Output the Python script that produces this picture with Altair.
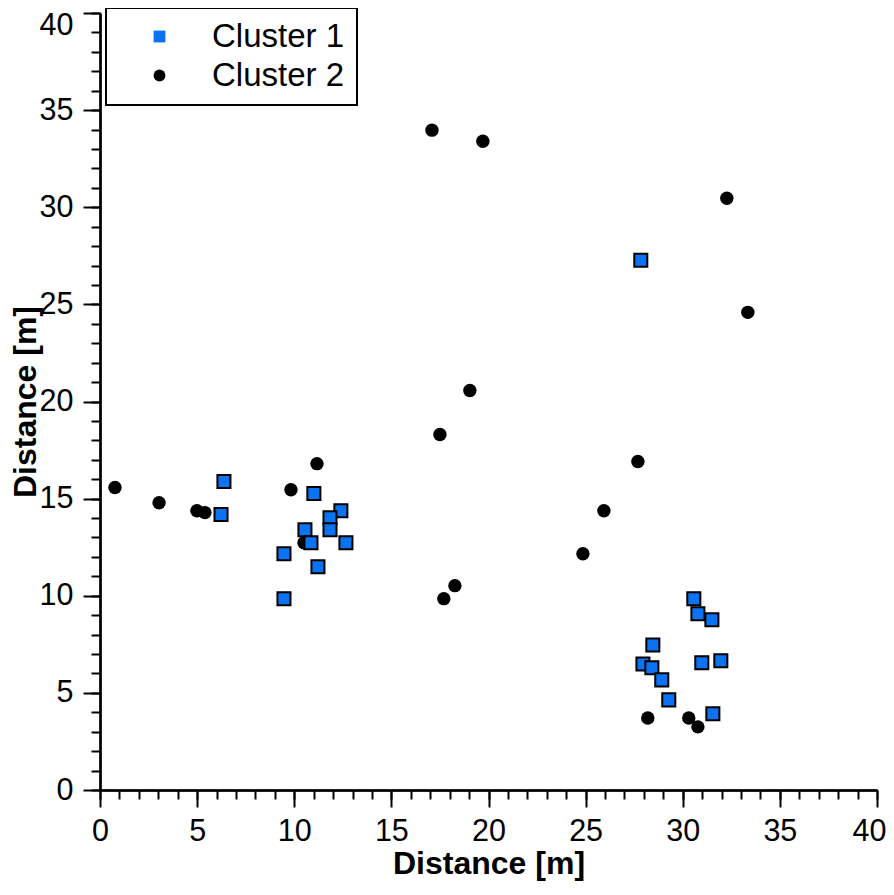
import altair as alt
import pandas as pd

c1_x = [27.84, 6.38, 6.23, 11.01, 12.40, 11.84, 11.84, 10.55, 10.86, 12.66, 9.47, 11.22, 9.47,
        30.57, 30.78, 31.50, 28.46, 27.95, 28.41, 28.92, 29.28, 30.98, 31.96, 31.55]
c1_y = [27.27, 15.88, 14.18, 15.26, 14.38, 14.02, 13.40, 13.40, 12.73, 12.73, 12.16, 11.49, 9.85,
        9.85, 9.07, 8.76, 7.47, 6.49, 6.29, 5.67, 4.64, 6.55, 6.65, 3.92]

c2_x = [0.77, 3.04, 4.99, 5.40, 9.83, 11.17, 10.50, 17.09, 19.71, 17.50, 19.04, 18.27, 17.70,
        24.86, 25.94, 27.69, 32.27, 33.35, 28.20, 30.31, 30.78]
c2_y = [15.57, 14.79, 14.38, 14.28, 15.46, 16.80, 12.73, 33.97, 33.40, 18.30, 20.57, 10.52, 9.85,
        12.16, 14.38, 16.91, 30.46, 24.59, 3.71, 3.71, 3.25]

series = ["Cluster 1", "Cluster 2"]
minor_ticks = list(range(0, 41))
major_ticks = [0, 5, 10, 15, 20, 25, 30, 35]
end_tick = [40]

df1 = pd.DataFrame({"x": c1_x, "y": c1_y, "cluster": series[0]})
df2 = pd.DataFrame({"x": c2_x, "y": c2_y, "cluster": series[1]})

FONT = "Liberation Sans"
TITLE = "Distance [m]"

common = dict(tickWidth=2, tickColor="black", domainWidth=2, domainColor="black", grid=False,
              labelFont=FONT, labelFontSize=30.5, labelColor="black",
              titleFont=FONT, titleFontSize=32, titleFontWeight="bold", titleColor="black",
              labelOverlap=False, labelFlush=False)

xscale = alt.Scale(domain=[0, 40], nice=False)
yscale = alt.Scale(domain=[0, 40], nice=False)
shape_scale = alt.Scale(domain=series, range=["square", "circle"])
fill_scale = alt.Scale(domain=series, range=["#0b72f2", "black"])

legend = alt.Legend(title=None, orient="none", legendX=6, legendY=-5,
                    labelFont=FONT, labelFontSize=33, labelColor="black",
                    strokeColor="black", padding=12, rowPadding=5,
                    symbolSize=140, symbolOffset=25, labelOffset=36,
                    symbolStrokeColor="black", symbolStrokeWidth=1)

# circles (Cluster 2) with minor-tick axes
circles = alt.Chart(df2).mark_point(filled=True, opacity=1, size=180, strokeWidth=0).encode(
    x=alt.X("x:Q", title=None, scale=xscale,
            axis=alt.Axis(orient="bottom", values=minor_ticks, labels=False, tickSize=9, **common)),
    y=alt.Y("y:Q", title=None, scale=yscale,
            axis=alt.Axis(orient="left", values=minor_ticks, labels=False, tickSize=9, **common)),
    shape=alt.Shape("cluster:N", scale=shape_scale, legend=legend),
    fill=alt.Fill("cluster:N", scale=fill_scale, legend=legend),
)

# squares (Cluster 1) with major-tick axes
squares = alt.Chart(df1).mark_point(filled=True, opacity=1, size=170, stroke="black", strokeWidth=2).encode(
    x=alt.X("x:Q", title=TITLE, scale=xscale,
            axis=alt.Axis(orient="bottom", values=major_ticks, tickSize=17, labelPadding=9,
                          titlePadding=2, **common)),
    y=alt.Y("y:Q", title=TITLE, scale=yscale,
            axis=alt.Axis(orient="left", values=major_ticks, tickSize=17, labelPadding=10,
                          titlePadding=-3, **common)),
    shape=alt.Shape("cluster:N", scale=shape_scale, legend=legend),
    fill=alt.Fill("cluster:N", scale=fill_scale, legend=legend),
)

# invisible layer carrying the end labels (40), kept inside the page
common_end = dict(common)
common_end["labelFlush"] = True
end_axes = alt.Chart(df1).mark_point(opacity=0).encode(
    x=alt.X("x:Q", title=None, scale=xscale,
            axis=alt.Axis(orient="bottom", values=end_tick, tickSize=17, labelPadding=9,
                          labelFlushOffset=9, **common_end)),
    y=alt.Y("y:Q", title=None, scale=yscale,
            axis=alt.Axis(orient="left", values=end_tick, tickSize=17, labelPadding=10,
                          labelFlushOffset=3, **common_end)),
)

chart = alt.layer(circles, squares, end_axes).resolve_axis(
    x="independent", y="independent"
).properties(
    width=777, height=777,
    autosize=alt.AutoSizeParams(type="none"),
    padding={"left": 92, "top": 5, "right": 9, "bottom": 92},
).configure_view(stroke=None).configure_legend(strokeWidth=2)

chart.save("out.html", embed_options={"renderer": "svg", "actions": False})
